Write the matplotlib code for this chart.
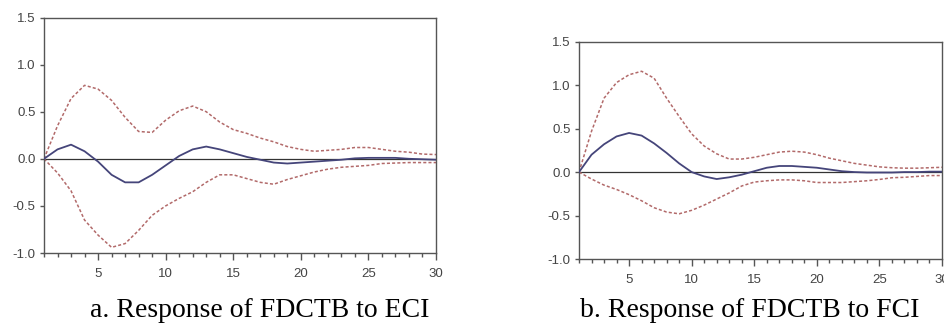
import matplotlib
matplotlib.use("Agg")
import matplotlib.pyplot as plt
import numpy as np

periods = list(range(1, 31))

# Panel a: Response of FDCTB to ECI
resp_a = [0.0, 0.10, 0.15, 0.08, -0.03, -0.17, -0.25, -0.25, -0.17, -0.07,
          0.03, 0.10, 0.13, 0.10, 0.06, 0.02, -0.01, -0.04, -0.05, -0.04,
          -0.03, -0.02, -0.01, 0.005, 0.01, 0.01, 0.01, 0.0, -0.005, -0.01]
upper_a = [0.0, 0.35, 0.64, 0.78, 0.74, 0.62, 0.44, 0.29, 0.28, 0.41,
           0.51, 0.56, 0.50, 0.39, 0.31, 0.27, 0.22, 0.18, 0.13, 0.10,
           0.08, 0.09, 0.10, 0.12, 0.12, 0.10, 0.08, 0.07, 0.05, 0.045]
lower_a = [0.0, -0.15, -0.34, -0.65, -0.81, -0.94, -0.90, -0.76, -0.60, -0.50,
           -0.42, -0.35, -0.25, -0.17, -0.17, -0.21, -0.25, -0.27, -0.22, -0.18,
           -0.14, -0.11, -0.09, -0.08, -0.07, -0.05, -0.045, -0.04, -0.04, -0.04]

# Panel b: Response of FDCTB to FCI
resp_b = [0.0, 0.20, 0.32, 0.41, 0.45, 0.42, 0.33, 0.22, 0.10, 0.0,
          -0.05, -0.08, -0.06, -0.03, 0.01, 0.05, 0.07, 0.07, 0.06, 0.05,
          0.03, 0.01, 0.0, -0.005, -0.005, -0.005, 0.0, 0.0, 0.005, 0.005]
upper_b = [0.0, 0.47, 0.85, 1.03, 1.12, 1.16, 1.08, 0.85, 0.64, 0.44,
           0.30, 0.21, 0.15, 0.15, 0.17, 0.20, 0.23, 0.24, 0.23, 0.20,
           0.16, 0.13, 0.10, 0.08, 0.06, 0.05, 0.045, 0.045, 0.05, 0.055]
lower_b = [0.0, -0.08, -0.15, -0.20, -0.26, -0.33, -0.41, -0.46, -0.48, -0.44,
           -0.38, -0.31, -0.24, -0.16, -0.115, -0.10, -0.09, -0.09, -0.10, -0.12,
           -0.12, -0.12, -0.11, -0.10, -0.085, -0.065, -0.06, -0.05, -0.04, -0.04]

yticks = [-1.0, -0.5, 0.0, 0.5, 1.0, 1.5]
xticks = [5, 10, 15, 20, 25, 30]
captions = ["a. Response of FDCTB to ECI", "b. Response of FDCTB to FCI"]

RESP_COLOR = "#45457a"
BAND_COLOR = "#b26a6a"
AX_COLOR = "#555555"
LABEL_COLOR = "#444444"

fig = plt.figure(figsize=(9.44, 3.24), dpi=100)

positions = [
    [44 / 944, 1 - 253 / 324, (436 - 44) / 944, (253 - 17.5) / 324],
    [579 / 944, 1 - 259 / 324, (942 - 579) / 944, (259 - 41.7) / 324],
]
caption_x = [260 / 944, 750 / 944]

panels = [(resp_a, upper_a, lower_a), (resp_b, upper_b, lower_b)]

for i, (resp, up, lo) in enumerate(panels):
    ax = fig.add_axes(positions[i])
    ax.axhline(0, color="#333333", lw=0.9, zorder=1)
    ax.plot(periods, up, color=BAND_COLOR, lw=1.1, ls=(0, (2.0, 1.4)), zorder=2)
    ax.plot(periods, lo, color=BAND_COLOR, lw=1.1, ls=(0, (2.0, 1.4)), zorder=2)
    ax.plot(periods, resp, color=RESP_COLOR, lw=1.3, zorder=3)
    ax.set_xlim(1, 30)
    ax.set_ylim(-1.0, 1.5)
    ax.set_yticks(yticks)
    ax.set_yticklabels([f"{v:.1f}" for v in yticks])
    ax.set_xticks(xticks)
    ax.set_xticklabels([str(v) for v in xticks])
    ax.set_xticks(periods, minor=True)
    for s in ax.spines.values():
        s.set_color(AX_COLOR)
        s.set_linewidth(1.0)
    ax.tick_params(axis="both", which="major", direction="out", colors=AX_COLOR,
                   labelcolor=LABEL_COLOR, labelsize=9.5, width=1.0)
    ax.tick_params(axis="x", which="major", length=5, pad=6)
    ax.tick_params(axis="x", which="minor", length=3, width=1.0, color=AX_COLOR)
    ax.tick_params(axis="y", which="major", length=3, pad=3)
    for lbl in ax.get_xticklabels() + ax.get_yticklabels():
        lbl.set_fontfamily("Liberation Sans")
    fig.text(caption_x[i], 0.043, captions[i], ha="center", va="center",
             fontsize=20, family="Liberation Serif", color="black")

fig.savefig("out.png", dpi=100)
